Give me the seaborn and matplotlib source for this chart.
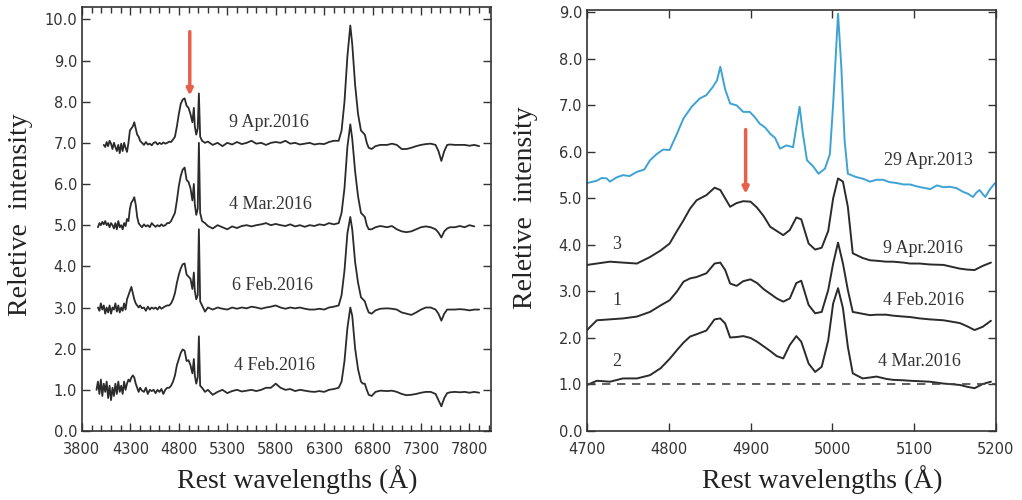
import numpy as np
import pandas as pd
import seaborn as sns
import matplotlib.pyplot as plt
from matplotlib.ticker import MultipleLocator, FormatStrFormatter

nan = np.nan

# ---- left panel: full spectra (offset by 2 each) ----
wl_left = [3950, 3965, 3980, 3995, 4010, 4025, 4040, 4055, 4070, 4085,
           4100, 4115, 4130, 4145, 4160, 4175, 4190, 4205, 4220, 4235,
           4250, 4265, 4280, 4295, 4310, 4325, 4340, 4355, 4370, 4385,
           4400, 4420, 4440, 4460, 4480, 4500, 4520, 4540, 4560, 4580,
           4600, 4620, 4640, 4660, 4680, 4700, 4720, 4740, 4760, 4780,
           4800, 4820, 4840, 4860, 4880, 4900, 4920, 4940, 4955, 4965,
           4980, 4995, 5007, 5020, 5040, 5070, 5100, 5150, 5200, 5250,
           5300, 5350, 5400, 5450, 5500, 5550, 5600, 5650, 5700, 5750,
           5800, 5850, 5900, 5950, 6000, 6050, 6100, 6150, 6200, 6250,
           6300, 6350, 6400, 6450, 6480, 6510, 6540, 6570, 6590, 6620,
           6650, 6680, 6700, 6720, 6740, 6760, 6790, 6830, 6880, 6950,
           7000, 7050, 7100, 7150, 7200, 7250, 7300, 7350, 7400, 7450,
           7480, 7510, 7540, 7570, 7600, 7650, 7700, 7750, 7800, 7850, 7900]

apr9_2016 = [nan, nan, nan, nan, nan, 6.95, 6.90, 7.02, 6.92, 7.05,
             6.98, 6.85, 7.00, 6.90, 6.80, 6.95, 6.75, 6.98, 6.80, 7.00,
             6.88, 6.78, 7.00, 7.30, 7.35, 7.40, 7.50, 7.35, 7.20, 7.15,
             7.05, 7.00, 6.95, 7.02, 6.96, 6.98, 6.94, 7.00, 7.02, 6.96,
             7.00, 6.97, 7.01, 6.98, 7.00, 7.03, 7.02, 7.08, 7.15, 7.40,
             7.70, 7.95, 8.05, 8.08, 7.90, 7.85, 7.70, 7.50, 7.85, 7.40,
             7.20, 7.35, 8.20, 7.15, 7.05, 7.00, 7.03, 6.95, 7.00, 6.92,
             7.00, 6.96, 7.02, 6.97, 7.00, 7.05, 6.98, 7.00, 6.95, 7.00,
             7.02, 7.00, 7.05, 6.98, 7.00, 6.96, 6.98, 7.00, 6.96, 6.98,
             6.97, 7.02, 7.05, 7.05, 7.30, 8.00, 9.10, 9.85, 9.40, 8.40,
             7.70, 7.30, 7.25, 7.20, 7.00, 6.88, 6.85, 6.92, 6.95, 6.95,
             6.98, 6.95, 6.85, 6.85, 6.88, 6.92, 6.95, 6.97, 6.98, 6.95,
             6.80, 6.56, 6.80, 6.95, 6.96, 6.95, 6.95, 6.95, 6.93, 6.95, 6.92]

mar4_2016 = [nan, 4.95, 5.05, 5.00, 5.08, 5.02, 5.10, 5.00, 5.05, 4.95,
             5.05, 5.00, 4.92, 5.05, 4.90, 5.10, 4.95, 5.00, 4.90, 5.05,
             4.98, 5.15, 5.10, 5.40, 5.55, 5.60, 5.68, 5.50, 5.20, 5.05,
             5.00, 4.95, 5.02, 4.97, 5.00, 4.95, 5.05, 5.00, 4.96, 5.00,
             4.97, 5.02, 4.98, 5.00, 5.05, 5.05, 5.10, 5.20, 5.30, 5.60,
             5.95, 6.20, 6.35, 6.40, 6.10, 6.05, 5.90, 5.60, 6.00, 5.50,
             5.25, 5.40, 7.00, 5.30, 5.10, 5.05, 4.98, 4.92, 5.00, 4.95,
             4.90, 4.97, 4.93, 4.98, 5.00, 4.97, 5.00, 5.02, 5.05, 5.00,
             5.03, 5.00, 4.98, 5.02, 4.97, 5.00, 4.96, 5.00, 4.98, 5.02,
             5.00, 5.05, 5.02, 5.05, 5.30, 5.90, 6.90, 7.45, 7.10, 6.30,
             5.70, 5.30, 5.25, 5.20, 5.00, 4.90, 4.90, 4.95, 4.98, 4.95,
             4.98, 4.90, 4.85, 4.83, 4.85, 4.90, 4.95, 4.97, 4.95, 4.90,
             4.82, 4.70, 4.85, 4.92, 4.95, 4.95, 4.98, 4.95, 5.00, 4.97, nan]

feb6_2016 = [nan, 3.00, 2.92, 3.10, 2.95, 3.05, 2.85, 3.00, 2.88, 3.05,
             2.85, 3.00, 2.95, 3.10, 2.90, 3.05, 2.88, 3.00, 2.92, 3.10,
             2.95, 3.20, 3.30, 3.40, 3.50, 3.35, 3.20, 3.10, 3.05, 3.00,
             3.05, 2.98, 3.00, 2.92, 3.02, 2.95, 3.00, 2.97, 3.00, 2.95,
             3.02, 2.97, 3.00, 3.03, 3.05, 3.05, 3.10, 3.20, 3.35, 3.60,
             3.80, 3.95, 4.05, 4.07, 3.80, 3.75, 3.70, 3.45, 3.85, 3.40,
             3.20, 3.30, 4.90, 3.15, 3.05, 2.90, 3.00, 2.95, 3.00, 2.97,
             2.95, 3.00, 2.97, 3.00, 2.98, 3.02, 3.00, 2.97, 3.00, 3.02,
             3.05, 3.00, 2.97, 3.00, 2.98, 3.00, 2.97, 2.95, 2.95, 2.97,
             2.95, 3.00, 3.02, 3.05, 3.30, 3.90, 4.80, 5.20, 4.90, 4.10,
             3.60, 3.25, 3.20, 3.15, 3.00, 2.88, 2.85, 2.93, 2.97, 2.98,
             2.97, 2.95, 2.88, 2.85, 2.82, 2.88, 2.95, 3.00, 3.00, 2.95,
             2.85, 2.68, 2.85, 2.95, 2.95, 2.95, 2.96, 2.95, 2.93, 2.95, 2.95]

feb4_2016 = [1.00, 1.20, 0.90, 1.25, 0.85, 1.15, 0.95, 1.20, 0.80, 1.10,
             0.75, 1.05, 0.85, 1.15, 0.90, 1.20, 0.95, 1.10, 0.90, 1.20,
             1.00, 1.15, 1.25, 1.20, 1.30, 1.35, 1.30, 1.15, 1.05, 0.95,
             1.05, 0.98, 0.95, 1.05, 0.90, 1.00, 0.97, 1.00, 0.92, 1.00,
             0.95, 1.02, 0.90, 1.00, 1.05, 1.05, 1.10, 1.20, 1.35, 1.60,
             1.75, 1.90, 1.98, 1.95, 1.70, 1.72, 1.60, 1.40, 1.75, 1.35,
             1.15, 1.30, 2.30, 1.10, 1.05, 0.95, 1.00, 0.88, 0.95, 1.00,
             0.92, 0.97, 1.00, 0.96, 0.98, 1.00, 0.97, 1.00, 1.05, 1.05,
             1.15, 1.05, 1.00, 1.02, 0.97, 1.00, 0.98, 0.96, 0.95, 0.97,
             0.95, 1.00, 1.02, 1.05, 1.20, 1.70, 2.50, 3.00, 2.80, 2.00,
             1.50, 1.20, 1.15, 1.15, 1.00, 0.88, 0.85, 0.95, 0.98, 0.97,
             0.98, 0.95, 0.90, 0.87, 0.88, 0.90, 0.93, 0.95, 0.95, 0.90,
             0.75, 0.60, 0.80, 0.92, 0.94, 0.95, 0.94, 0.95, 0.93, 0.95, 0.93]

left_labels = ["9 Apr.2016", "4 Mar.2016", "6 Feb.2016", "4 Feb.2016"]
left_label_pos = [(5728, 7.5), (5750, 5.5), (5770, 3.54), (5790, 1.58)]
left_xticks = [3800, 4300, 4800, 5300, 5800, 6300, 6800, 7300, 7800]

# ---- right panel: H-beta / [OIII] region ----
wl_2013 = [4700, 4712, 4718, 4724, 4728, 4736, 4744, 4752, 4761, 4770,
           4777, 4785, 4793, 4801, 4810, 4818, 4828, 4838, 4846, 4854,
           4859, 4863, 4869, 4875, 4883, 4891, 4899, 4905, 4911, 4918,
           4924, 4930, 4936, 4944, 4952, 4956, 4960, 4964, 4969, 4977,
           4983, 4991, 4997, 5001, 5007, 5011, 5015, 5019, 5029, 5038,
           5046, 5054, 5062, 5070, 5079, 5087, 5095, 5103, 5111, 5120,
           5128, 5136, 5144, 5152, 5160, 5166, 5172, 5176, 5180, 5187,
           5193, 5199]
apr29_2013 = [5.33, 5.38, 5.44, 5.43, 5.36, 5.45, 5.50, 5.48, 5.57, 5.62,
              5.82, 5.95, 6.05, 6.04, 6.39, 6.72, 6.97, 7.15, 7.22, 7.40,
              7.54, 7.83, 7.34, 7.04, 7.00, 6.86, 6.86, 6.75, 6.61, 6.52,
              6.39, 6.30, 6.07, 6.14, 6.10, 6.54, 6.97, 6.39, 5.82, 5.68,
              5.53, 5.64, 5.95, 7.02, 8.97, 7.83, 6.25, 5.53, 5.46, 5.42,
              5.36, 5.40, 5.40, 5.35, 5.33, 5.30, 5.30, 5.26, 5.23, 5.20,
              5.28, 5.24, 5.25, 5.22, 5.14, 5.10, 5.03, 5.12, 5.18, 5.03,
              5.20, 5.33]

wl_2016 = [4700, 4712, 4728, 4744, 4761, 4777, 4790, 4801, 4810, 4818,
           4826, 4834, 4846, 4856, 4863, 4869, 4875, 4883, 4891, 4900,
           4908, 4916, 4924, 4932, 4940, 4948, 4956, 4962, 4971, 4979,
           4987, 4995, 5001, 5007, 5013, 5019, 5025, 5037, 5046, 5054,
           5066, 5074, 5087, 5095, 5107, 5119, 5136, 5156, 5165, 5174,
           5184, 5194]
apr9_2016_r = [3.57, 3.60, 3.64, 3.62, 3.60, 3.74, 3.88, 4.03, 4.30, 4.53,
               4.78, 4.96, 5.07, 5.23, 5.18, 5.00, 4.82, 4.90, 4.94, 4.93,
               4.80, 4.62, 4.39, 4.30, 4.21, 4.32, 4.59, 4.55, 4.03, 3.90,
               3.94, 4.30, 5.00, 5.43, 5.36, 4.82, 3.82, 3.72, 3.67, 3.66,
               3.64, 3.64, 3.62, 3.60, 3.60, 3.58, 3.57, 3.49, 3.47, 3.46,
               3.55, 3.62]
feb4_2016_r = [2.17, 2.38, 2.40, 2.42, 2.46, 2.56, 2.70, 2.81, 3.00, 3.21,
               3.28, 3.31, 3.39, 3.60, 3.62, 3.46, 3.17, 3.12, 3.22, 3.26,
               3.18, 3.05, 2.95, 2.85, 2.78, 2.85, 3.18, 3.23, 2.71, 2.53,
               2.56, 3.03, 3.60, 4.05, 3.60, 3.03, 2.56, 2.52, 2.49, 2.50,
               2.50, 2.48, 2.46, 2.45, 2.42, 2.40, 2.38, 2.32, 2.25, 2.17,
               2.24, 2.37]
mar4_2016_r = [0.99, 1.08, 1.06, 1.13, 1.13, 1.20, 1.35, 1.55, 1.74, 1.90,
               2.03, 2.08, 2.16, 2.40, 2.42, 2.31, 2.01, 2.02, 2.04, 2.00,
               1.92, 1.82, 1.72, 1.61, 1.56, 1.85, 2.04, 1.92, 1.45, 1.27,
               1.38, 1.95, 2.74, 3.07, 2.64, 1.81, 1.24, 1.13, 1.15, 1.17,
               1.12, 1.10, 1.09, 1.08, 1.07, 1.06, 1.02, 0.99, 0.95, 0.92,
               1.01, 1.06]

right_numbers = ["3", "1", "2"]
right_number_pos = [(4736, 4.0), (4736, 2.81), (4736, 1.49)]
right_labels = ["29 Apr.2013", "9 Apr.2016", "4 Feb.2016", "4 Mar.2016"]
right_label_pos = [(5117, 5.81), (5111, 3.93), (5111, 2.81), (5107, 1.49)]

BLACK = "#2b2b2b"
BLUE = "#3ea3d4"
RED = "#e8604c"
SERIF = "Liberation Serif"

sns.set_style("ticks")
plt.rcParams['font.family'] = ['DejaVu Sans']

fig = plt.figure(figsize=(10.22, 5.0), dpi=100)
ax1 = fig.add_axes([0.0802, 0.138, 0.400, 0.848])
ax2 = fig.add_axes([0.5744, 0.138, 0.400, 0.842])

for flux in [apr9_2016, mar4_2016, feb6_2016, feb4_2016]:
    df = pd.DataFrame({"wl": wl_left, "flux": flux}).dropna()
    sns.lineplot(data=df, x="wl", y="flux", ax=ax1, color=BLACK, lw=1.3,
                 sort=False, estimator=None)

for txt, (x, y) in zip(left_labels, left_label_pos):
    ax1.text(x, y, txt, ha="center", va="center", fontsize=13,
             family=SERIF, color="#333333")

ax1.annotate("", xy=(4913, 8.15), xytext=(4913, 9.7),
             arrowprops=dict(arrowstyle="-|>", color=RED, lw=2.5,
                             mutation_scale=9, shrinkA=0, shrinkB=0))

ax1.set_xlim(3800, 8020)
ax1.set_ylim(0, 10.3)
ax1.set_xticks(left_xticks)
ax1.xaxis.set_minor_locator(MultipleLocator(100))
ax1.yaxis.set_major_locator(MultipleLocator(1.0))
ax1.yaxis.set_major_formatter(FormatStrFormatter("%.1f"))

sns.lineplot(x=wl_2013, y=apr29_2013, ax=ax2, color=BLUE, lw=1.4,
             sort=False, estimator=None)
for flux in [apr9_2016_r, feb4_2016_r, mar4_2016_r]:
    sns.lineplot(x=wl_2016, y=flux, ax=ax2, color=BLACK, lw=1.4,
                 sort=False, estimator=None)
ax2.axhline(1.0, color="#444444", lw=1.2, ls=(0, (5, 4)))

for txt, (x, y) in zip(right_numbers, right_number_pos):
    ax2.text(x, y, txt, ha="center", va="center", fontsize=13,
             family=SERIF, color="#333333")
for txt, (x, y) in zip(right_labels, right_label_pos):
    ax2.text(x, y, txt, ha="center", va="center", fontsize=13,
             family=SERIF, color="#333333")

ax2.annotate("", xy=(4894, 5.1), xytext=(4894, 6.48),
             arrowprops=dict(arrowstyle="-|>", color=RED, lw=2.5,
                             mutation_scale=9, shrinkA=0, shrinkB=0))

ax2.set_xlim(4700, 5200)
ax2.set_ylim(0, 9.05)
ax2.xaxis.set_major_locator(MultipleLocator(100))
ax2.yaxis.set_major_locator(MultipleLocator(1.0))
ax2.yaxis.set_major_formatter(FormatStrFormatter("%.1f"))

for ax, lx, ly, xx in [(ax1, -0.12, 0.51, 0.526), (ax2, -0.12, 0.53, 0.575)]:
    for side in ax.spines.values():
        side.set_linewidth(1.2)
        side.set_color("#333333")
    ax.tick_params(which="both", direction="in", top=True, right=True,
                   color="#333333", width=1.0)
    ax.tick_params(which="major", length=6, labelsize=10.5, labelcolor="#333333")
    ax.tick_params(axis="x", which="major", pad=8)
    ax.tick_params(which="minor", length=4)
    ax.set_xlabel("Rest wavelengths (Å)", fontsize=20, family=SERIF,
                  color="#222222")
    ax.set_ylabel("Reletive  intensity", fontsize=20, family=SERIF,
                  color="#222222")
    ax.xaxis.set_label_coords(xx, -0.08)
    ax.yaxis.set_label_coords(lx, ly)

fig.savefig("out.png", dpi=100)
